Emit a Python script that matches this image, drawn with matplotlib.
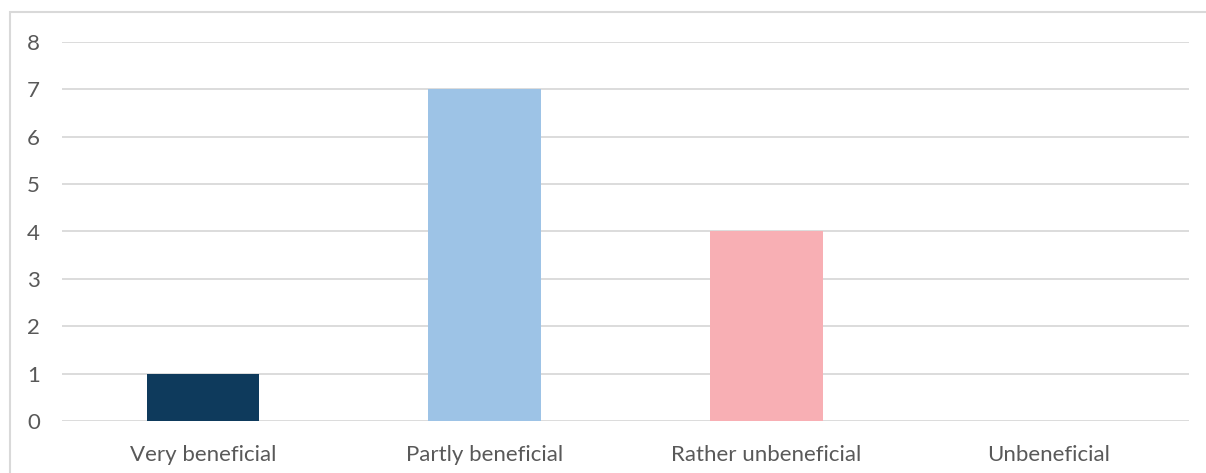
import matplotlib.pyplot as plt
from matplotlib.patches import Rectangle

FONT_SIZE = 16
TEXT_COLOR = "#595959"
GRID_COLOR = "#D9D9D9"

categories = ["Very beneficial", "Partly beneficial", "Rather unbeneficial", "Unbeneficial"]
counts = [1, 7, 4, 0]
colors = ["#0E3A5C", "#9DC3E6", "#F8AFB4", "#F8AFB4"]
y_ticks = [0, 1, 2, 3, 4, 5, 6, 7, 8]

plt.rcParams["font.family"] = ["Lato", "DejaVu Sans"]

W, H = 1206, 473
fig = plt.figure(figsize=(W / 100, H / 100), dpi=100)

# outer chart frame, running off the right and bottom edges
fig.patches.append(Rectangle((10 / W, -0.05), 1.1, 1.05 - 12 / H,
                             transform=fig.transFigure, fill=False,
                             edgecolor=GRID_COLOR, linewidth=1.5))

ax = fig.add_axes([62 / W, 1 - 421 / H, (1189 - 62) / W, (421 - 42) / H])
x = range(len(categories))
ax.bar(x, counts, width=0.4, color=colors, zorder=3)

ax.set_xlim(-0.5, len(categories) - 0.5)
ax.set_ylim(0, 8)
ax.set_yticks(y_ticks)
ax.set_xticks(list(x))
ax.set_xticklabels(categories)
ax.grid(axis="y", color=GRID_COLOR, linewidth=1.3, zorder=0)
ax.set_axisbelow(True)

for spine in ax.spines.values():
    spine.set_visible(False)

ax.tick_params(axis="both", length=0, labelsize=FONT_SIZE, labelcolor=TEXT_COLOR)
ax.tick_params(axis="y", pad=16)
ax.tick_params(axis="x", pad=17)

fig.savefig("out.png", dpi=100)
